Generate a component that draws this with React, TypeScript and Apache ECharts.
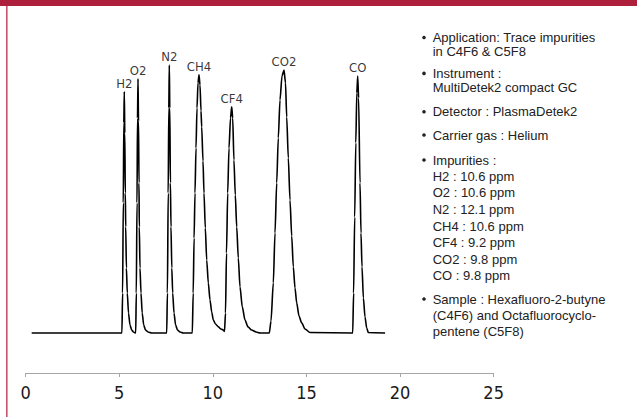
import React, { useEffect, useRef } from "react";
import * as echarts from "echarts";

// Axis ticks
const xTicks = [0, 5, 10, 15, 20, 25];

// Peak names (in elution order)
const peakNames = ["H2", "O2", "N2", "CH4", "CF4", "CO2", "CO"];

// Trace points, [time, signal]
const baselineStart = [[0.32, 0]];
const h2Trace = [[5.141, 0], [5.178, 15], [5.215, 48.8], [5.242, 78.8], [5.269, 90.5], [5.295, 75], [5.322, 52.5], [5.344, 39.8], [5.381, 24.4], [5.429, 15], [5.493, 7.5], [5.573, 3], [5.664, 1.1], [5.76, 0.4], [5.84, 0.1]];
const o2Trace = [[5.878, 0], [5.91, 15], [5.947, 48.8], [5.974, 80.6], [6.001, 95.3], [6.027, 79.5], [6.054, 56.3], [6.07, 39.8], [6.107, 24.4], [6.161, 15], [6.225, 7.5], [6.305, 3], [6.401, 1.1], [6.535, 0.4], [6.732, 0]];
const n2Trace = [[7.534, 0], [7.571, 15], [7.614, 52.5], [7.646, 84.4], [7.673, 100.5], [7.699, 84.4], [7.731, 56.3], [7.763, 39.8], [7.806, 24.4], [7.854, 15], [7.924, 7.5], [8.009, 3], [8.111, 1.1], [8.244, 0.4], [8.42, 0]];
const ch4Trace = [[8.901, 0], [8.949, 15], [8.997, 35.6], [9.045, 52.5], [9.099, 69.4], [9.152, 84.4], [9.206, 93.8], [9.259, 96.8], [9.313, 93], [9.366, 83.3], [9.403, 77.3], [9.473, 64.5], [9.526, 52.5], [9.596, 39.4], [9.671, 27.4], [9.756, 18.8], [9.847, 12.4], [9.938, 7.9], [10.023, 4.9], [10.14, 3.4], [10.29, 2.3], [10.434, 1.5], [10.557, 1.1]];
const cf4Trace = [[10.621, 0.6], [10.675, 7.5], [10.728, 30], [10.792, 52.5], [10.862, 69.4], [10.942, 80.6], [11.006, 84.8], [11.059, 80.6], [11.125, 64.9], [11.198, 51.8], [11.273, 39.8], [11.359, 28.1], [11.449, 17.3], [11.572, 9.8], [11.716, 4.9], [11.877, 2.3], [12.071, 1.1], [12.304, 0.4], [12.518, 0]];
const co2Trace = [[13.015, 0], [13.105, 4.5], [13.229, 18.8], [13.319, 37.5], [13.41, 56.3], [13.495, 73.1], [13.586, 87.4], [13.693, 96.4], [13.8, 98.6], [13.88, 93.8], [13.944, 81], [14.03, 65.6], [14.12, 49.9], [14.211, 36.4], [14.297, 24.8], [14.387, 16.9], [14.478, 11.3], [14.601, 6.4], [14.745, 3.8], [14.923, 1.5], [15.19, 0.2]];
const coTrace = [[17.47, 0], [17.518, 15], [17.576, 43.5], [17.635, 71.3], [17.689, 90], [17.737, 96.4], [17.785, 88.1], [17.86, 56.3], [17.913, 37.5], [17.966, 24.8], [18.041, 13.1], [18.127, 6], [18.217, 1.9], [18.303, 0.2]];
const baselineEnd = [[19.2, 0]];

const peakTraces = [h2Trace, o2Trace, n2Trace, ch4Trace, cf4Trace, co2Trace, coTrace];

// Info text lines on the right
const infoLines: { text: string; bullet: boolean; y: number }[] = [
  { text: "Application: Trace impurities", bullet: true, y: 37.5 },
  { text: "in C4F6 & C5F8", bullet: false, y: 51.8 },
  { text: "Instrument :", bullet: true, y: 73.4 },
  { text: "MultiDetek2 compact GC", bullet: false, y: 87.8 },
  { text: "Detector : PlasmaDetek2", bullet: true, y: 111.7 },
  { text: "Carrier gas : Helium", bullet: true, y: 135 },
  { text: "Impurities :", bullet: true, y: 160 },
  { text: "H2 : 10.6 ppm", bullet: false, y: 176 },
  { text: "O2 : 10.6 ppm", bullet: false, y: 192.7 },
  { text: "N2 : 12.1 ppm", bullet: false, y: 209.3 },
  { text: "CH4 : 10.6 ppm", bullet: false, y: 226 },
  { text: "CF4 : 9.2 ppm", bullet: false, y: 242.5 },
  { text: "CO2 : 9.8 ppm", bullet: false, y: 259.3 },
  { text: "CO : 9.8 ppm", bullet: false, y: 275.7 },
  { text: "Sample : Hexafluoro-2-butyne", bullet: true, y: 299 },
  { text: "(C4F6) and Octafluorocyclo-", bullet: false, y: 315 },
  { text: "pentene (C5F8)", bullet: false, y: 331 },
];

const NARROW = "'Liberation Sans Narrow', 'Arial Narrow', 'DejaVu Sans Condensed', 'Liberation Sans', sans-serif";
const INFO_FONT = "'Liberation Sans', Arial, sans-serif";

export default function App() {
  const ref = useRef<HTMLDivElement>(null);

  useEffect(() => {
    if (!ref.current) return;
    const chart = echarts.init(ref.current, undefined, { renderer: "svg" });

    const trace = [...baselineStart, ...peakTraces.flat(), ...baselineEnd];
    const apexes = peakTraces.map((pts, i) => {
      let best = pts[0];
      pts.forEach((p) => {
        if (p[1] > best[1]) best = p;
      });
      return { name: peakNames[i], value: best };
    });

    const graphics: any[] = [
      { type: "rect", shape: { x: 0, y: 0, width: 637, height: 6 }, style: { fill: "#AD1F3A" }, silent: true },
      { type: "rect", shape: { x: 6, y: 6, width: 1.6, height: 411 }, style: { fill: "#C4566B" }, silent: true },
    ];
    infoLines.forEach((l) => {
      if (l.bullet) {
        graphics.push({
          type: "circle",
          shape: { cx: 424, cy: l.y, r: 1.8 },
          style: { fill: "#222" },
          silent: true,
        });
      }
      graphics.push({
        type: "text",
        x: 432.7,
        y: l.y,
        style: {
          text: l.text,
          fill: "#222",
          font: `13px ${INFO_FONT}`,
          textVerticalAlign: "middle",
          textAlign: "left",
        },
        silent: true,
      });
    });

    chart.setOption({
      animation: false,
      backgroundColor: "#ffffff",
      grid: { left: 25.67, right: 143.33, top: 39.7, bottom: 44, containLabel: false },
      xAxis: {
        type: "value",
        min: xTicks[0],
        max: xTicks[xTicks.length - 1],
        interval: 5,
        axisLine: { show: true, onZero: false, lineStyle: { color: "#A6A6A6", width: 1 } },
        axisTick: { show: true, inside: false, length: 4, lineStyle: { color: "#A6A6A6" } },
        axisLabel: { color: "#1a1a1a", fontSize: 18, fontFamily: NARROW, margin: 10 },
        splitLine: { show: false },
      },
      yAxis: { type: "value", min: -15, max: 110, show: false },
      series: [
        {
          type: "line",
          data: trace,
          showSymbol: false,
          symbol: "none",
          smooth: 0.25,
          smoothMonotone: "x",
          lineStyle: { color: "#000", width: 1.6 },
          silent: true,
        },
        {
          type: "scatter",
          data: apexes,
          symbolSize: 0,
          label: {
            show: true,
            position: "top",
            distance: 2,
            formatter: "{b}",
            color: "#000",
            fontSize: 13,
            fontFamily: NARROW,
          },
          silent: true,
        },
      ],
      graphic: graphics,
    });

    return () => chart.dispose();
  }, []);

  return <div ref={ref} style={{ position: "absolute", left: 0, top: 0, width: 637, height: 417 }} />;
}
